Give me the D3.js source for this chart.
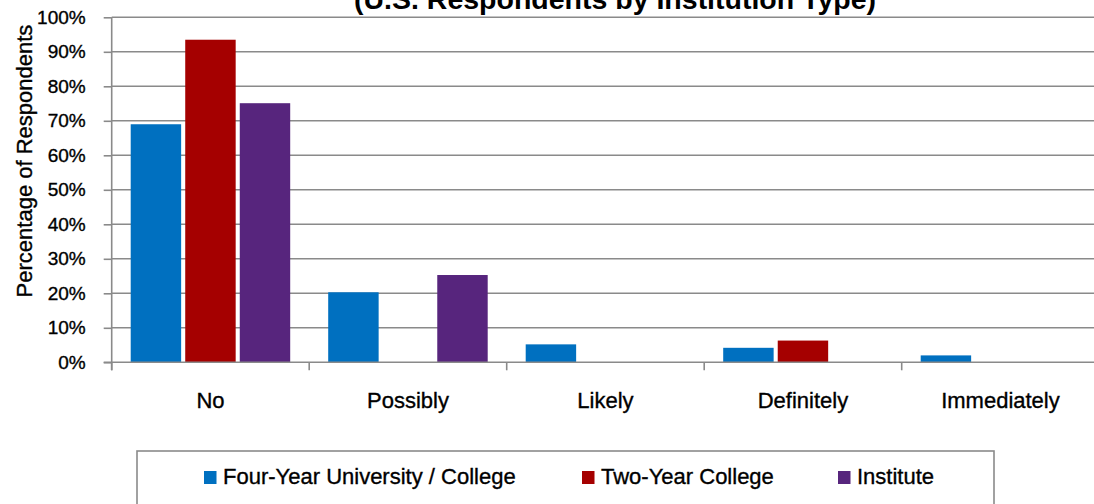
<!DOCTYPE html>
<html><head><meta charset="utf-8">
<script src="https://cdn.jsdelivr.net/npm/d3@7"></script>
<style>body{margin:0;background:#fff;overflow:hidden} svg{display:block;font-family:"Liberation Sans",Arial,sans-serif}
.lbl{stroke:#000;stroke-width:0.35px}</style>
</head><body><svg id="c" width="1094" height="504"></svg>
<script>
const title = "(U.S. Respondents by Institution Type)";
const categories = ["No", "Possibly", "Likely", "Definitely", "Immediately"];
const seriesNames = ["Four-Year University / College", "Two-Year College", "Institute"];
const fourYear = [0.69, 0.203, 0.052, 0.042, 0.02];
const twoYear = [0.935, 0, 0, 0.063, 0];
const institute = [0.751, 0.253, 0, 0, 0];
const yTicks = [0, 0.1, 0.2, 0.3, 0.4, 0.5, 0.6, 0.7, 0.8, 0.9, 1.0];
const yTickLabels = ["0%", "10%", "20%", "30%", "40%", "50%", "60%", "70%", "80%", "90%", "100%"];
const colors = ["#0070C0", "#A50000", "#57257D"];
const seriesValues = [fourYear, twoYear, institute];

(function () {
const svg = d3.select("#c");
const pL = 111.7, pR = 1099.2, pT = 17.3, pB = 362.3;
const grid = "#8a8a8a";

const y = d3.scaleLinear().domain([0, 1]).range([pB, pT]);
const x0 = d3.scaleBand().domain(categories).range([pL, pR]).padding(0);
const x1 = d3.scaleBand().domain(seriesNames).range([19, x0.bandwidth() - 19]).paddingInner(0.075);

// title (partly cut off at the top, as in the reference)
svg.append("text").attr("x", 615).attr("y", 9).attr("text-anchor", "middle")
  .attr("font-size", 28.5).attr("font-weight", "bold").attr("fill", "#000").text(title);

// gridlines
svg.append("g").selectAll("line").data(yTicks.slice(1)).join("line")
  .attr("x1", pL).attr("x2", 1094).attr("y1", d => y(d)).attr("y2", d => y(d))
  .attr("stroke", grid).attr("stroke-width", 1.6);

// y axis
const yAxis = d3.axisLeft(y).tickValues(yTicks).tickSize(8).tickPadding(18)
  .tickFormat((d, i) => yTickLabels[i]);
const gy = svg.append("g").attr("transform", `translate(${pL},0)`).call(yAxis);
gy.select(".domain").attr("stroke", grid).attr("stroke-width", 1.6).attr("d", `M0,${pT}V${pB + 8}`);
gy.selectAll(".tick line").attr("stroke", grid).attr("stroke-width", 1.6);
gy.selectAll(".tick text").attr("font-size", 19).attr("fill", "#000").attr("class", "lbl")
  .attr("font-family", '"Liberation Sans",Arial,sans-serif');

// bars
const groups = svg.append("g").selectAll("g").data(categories).join("g")
  .attr("transform", d => `translate(${x0(d)},0)`);
groups.selectAll("rect")
  .data((c, ci) => seriesNames.map((s, si) => ({s, si, v: seriesValues[si][ci]})).filter(d => d.v > 0))
  .join("rect")
  .attr("x", d => x1(d.s)).attr("width", x1.bandwidth())
  .attr("y", d => y(d.v)).attr("height", d => y(0) - y(d.v))
  .attr("fill", d => colors[d.si]);

// x axis
const xAxis = d3.axisBottom(x0).tickSize(0).tickPadding(30);
const gx = svg.append("g").attr("transform", `translate(0,${pB})`).call(xAxis);
gx.select(".domain").attr("stroke", grid).attr("stroke-width", 1.6).attr("d", `M${pL - 8},0H1094`);
gx.selectAll(".tick text").attr("font-size", 22).attr("fill", "#000").attr("class", "lbl")
  .attr("font-family", '"Liberation Sans",Arial,sans-serif');
// category separator ticks
svg.append("g").selectAll("line").data(categories).join("line")
  .attr("x1", d => x0(d)).attr("x2", d => x0(d)).attr("y1", pB).attr("y2", pB + 8)
  .attr("stroke", grid).attr("stroke-width", 1.6);

// y axis title
svg.append("text").attr("class", "lbl").attr("transform", "translate(32,161) rotate(-90)").attr("text-anchor", "middle")
  .attr("font-size", 22).attr("fill", "#000").text("Percentage of Respondents");

// legend
svg.append("rect").attr("x", 137).attr("y", 451).attr("width", 857).attr("height", 70)
  .attr("fill", "none").attr("stroke", grid).attr("stroke-width", 1.6);
const legendX = [204, 582, 838];
const lg = svg.append("g").selectAll("g").data(seriesNames).join("g")
  .attr("transform", (d, i) => `translate(${legendX[i]},0)`);
lg.append("rect").attr("x", 0).attr("y", 471).attr("width", 12.5).attr("height", 13)
  .attr("fill", (d, i) => colors[i]);
lg.append("text").attr("class", "lbl").attr("x", 19).attr("y", 484).attr("font-size", 22).attr("fill", "#000").text(d => d);
})();
</script></body></html>
